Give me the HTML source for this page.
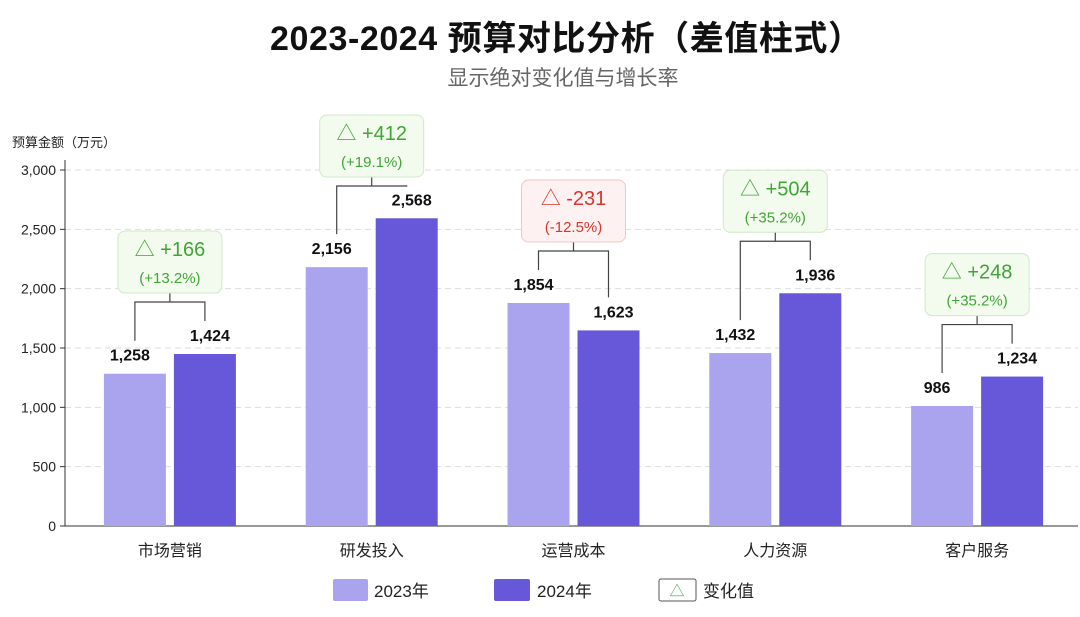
<!DOCTYPE html>
<html><head><meta charset="utf-8"><style>
body{margin:0;background:#fff;font-family:"Liberation Sans","Noto Sans CJK SC",sans-serif}
</style></head><body>
<svg id="c" width="1080" height="612" xmlns="http://www.w3.org/2000/svg" font-family="Liberation Sans, Noto Sans CJK SC, sans-serif">
<text x="566" y="50" text-anchor="middle" font-size="34" font-weight="bold" fill="#111" textLength="592">2023-2024 预算对比分析（差值柱式）</text>
<text x="563" y="85" text-anchor="middle" font-size="21" fill="#666">显示绝对变化值与增长率</text>
<text x="12" y="147" font-size="13" fill="#222">预算金额（万元）</text>
<g id="grid"></g><g id="bars"></g><g id="ann"></g>
<g>
<rect x="333" y="579" width="35" height="22" rx="2" fill="#aaa3ee"/>
<text x="374" y="597" font-size="17" fill="#222">2023年</text>
<rect x="494" y="579" width="36" height="22" rx="2" fill="#6658d8"/>
<text x="537" y="597" font-size="17" fill="#222">2024年</text>
<rect x="659" y="579" width="37" height="22" rx="2" fill="#fff" stroke="#555"/>
<text x="677" y="596" text-anchor="middle" font-size="15" fill="#4a4">△</text>
<text x="703" y="597" font-size="17" fill="#222">变化值</text>
</g>
</svg>
<script>
const categories=["市场营销","研发投入","运营成本","人力资源","客户服务"];
const values2023=[1258,2156,1854,1432,986];
const values2024=[1424,2568,1623,1936,1234];
const pctLabels=["+13.2%","+19.1%","-12.5%","+35.2%","+35.2%"];
const yTicks=[0,500,1000,1500,2000,2500,3000];
const NS="http://www.w3.org/2000/svg";
const axisX=65,x0=69,x1=1078,y0=526,y1=170,yMax=3000;
const y=v=>y0-(v/yMax)*(y0-y1)-3;
const yt=v=>y0-(v/yMax)*(y0-y1);
const band=(x1-x0)/categories.length;
const cx=i=>x0+band*(i+0.5);
function mk(p,tag,a,t){const e=document.createElementNS(NS,tag);for(const k in a)e.setAttribute(k,a[k]);if(t!=null)e.textContent=t;p.appendChild(e);return e;}
const grid=document.getElementById('grid'),bars=document.getElementById('bars'),ann=document.getElementById('ann');
yTicks.forEach(v=>{
  if(v>0){const g=mk(grid,'line',{x1:axisX,x2:x1,y1:yt(v),y2:yt(v),stroke:'#ddd','stroke-dasharray':'6,4'});
  
  }
  mk(grid,'line',{x1:axisX-5,x2:axisX,y1:yt(v),y2:yt(v),stroke:'#333'});
  const t=mk(grid,'text',{x:axisX-9,y:yt(v)+5,'text-anchor':'end','font-size':14,fill:'#222'},v.toLocaleString('en-US'));
  
  
});
mk(grid,'line',{x1:axisX,x2:axisX,y1:160,y2:y0,stroke:'#333'});
mk(grid,'line',{x1:axisX,x2:x1,y1:y0,y2:y0,stroke:'#333'});
categories.forEach((c,i)=>{
  const cc=cx(i),w=62,g=4;
  const xa=cc-g-w,xb=cc+g;
  const a=mk(bars,'rect',{x:xa,y:y(values2023[i]),width:w,height:y0-y(values2023[i]),fill:'#aaa3ee'});
  
  
  const b=mk(bars,'rect',{x:xb,y:y(values2024[i]),width:w,height:y0-y(values2024[i]),fill:'#6658d8'});
  
  
  const la=mk(bars,'text',{x:xa+w/2-5,y:y(values2023[i])-13,'text-anchor':'middle','font-size':16,'font-weight':'bold',fill:'#111'},values2023[i].toLocaleString('en-US'));
  
  
  const lb=mk(bars,'text',{x:xb+w/2+5,y:y(values2024[i])-13,'text-anchor':'middle','font-size':16,'font-weight':'bold',fill:'#111'},values2024[i].toLocaleString('en-US'));
  
  
  const xl=mk(bars,'text',{x:cc,y:556,'text-anchor':'middle','font-size':16,fill:'#222'},c);
  
  
  const pa=xa+w/2,pb=xb+w/2;
  const ya=y(values2023[i])-33,yb=y(values2024[i])-33;
  let by=Math.min(y(values2023[i]),y(values2024[i]))-52;
  if(by<186)by=186;
  mk(ann,'path',{d:`M${pa},${ya}V${by}H${pb}V${yb}M${cc},${by}V${by-9}`,fill:'none',stroke:'#444','stroke-width':1.2});
  const d=values2024[i]-values2023[i];
  const pos=d>=0,col=pos?'#3fa535':'#d9352b';
  const bx=mk(ann,'rect',{x:cc-52,y:by-71,width:104,height:62,rx:7,fill:pos?'#f3fbef':'#fdf1f1',stroke:pos?'#cfe8c8':'#f2c5c5'});
  
  
  mk(ann,'text',{x:cc,y:by-46,'text-anchor':'middle','font-size':20,fill:col},'△ '+(pos?'+':'')+d);
  mk(ann,'text',{x:cc,y:by-19,'text-anchor':'middle','font-size':15,fill:col},'('+pctLabels[i]+')');
});
</script>
</body></html>
